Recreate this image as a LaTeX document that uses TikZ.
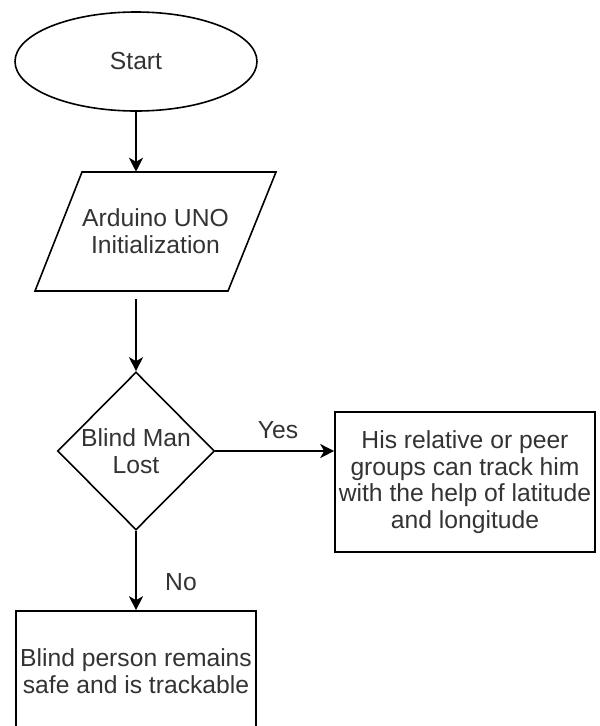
\documentclass[tikz,border=0pt]{standalone}
\usepackage{fontspec}
\setmainfont{Liberation Sans}
\usetikzlibrary{shapes.geometric,arrows.meta}
\definecolor{txt}{HTML}{333333}
\begin{document}
\begin{tikzpicture}[x=0.75pt,y=-0.75pt,
  every node/.style={text=txt,font=\fontsize{18.5}{20}\selectfont,align=center,inner sep=0pt},
  shp/.style={draw=black,line width=1.2pt},
  arr/.style={draw=black,line width=1.2pt,-{Stealth[length=10.5pt,width=10.5pt,inset=3pt]}}]
\clip (0,0) rectangle (600,726);
% start
\node[shp,ellipse,minimum width=181.5pt,minimum height=74.25pt] (start) at (136,61.5) {Start};
% parallelogram
\node[minimum width=145.5pt,minimum height=89.25pt] (par) at (155.5,231.5) {Arduino UNO\\Initialization};
\draw[shp] (82,172) -- (276,172) -- (228,291) -- (35,291) -- cycle;
% decision
\node[shp,diamond,minimum width=117.75pt,minimum height=118.5pt] (dia) at (136,451) {Blind Man\\Lost};
% yes box
\node[shp,rectangle,minimum width=195pt,minimum height=105pt] (yes) at (465,482)
  {His relative or peer\\groups can track him\\with the help of latitude\\and longitude};
% no box
\node[shp,rectangle,minimum width=180pt,minimum height=90pt] (no) at (136,671)
  {Blind person remains\\safe and is trackable};
% connectors
\draw[arr] (start.south) -- (start.south |- par.north);
\draw[arr] ([yshift=-6pt]par.south -| dia.north) -- (dia.north);
\draw[arr] (dia.east) -- (dia.east -| yes.west);
\draw[arr] (dia.south) -- (dia.south |- no.north);
% labels
\node (lyes) at (278,430) {Yes};
\node (lno) at (181,582) {No};
\end{tikzpicture}
\end{document}
